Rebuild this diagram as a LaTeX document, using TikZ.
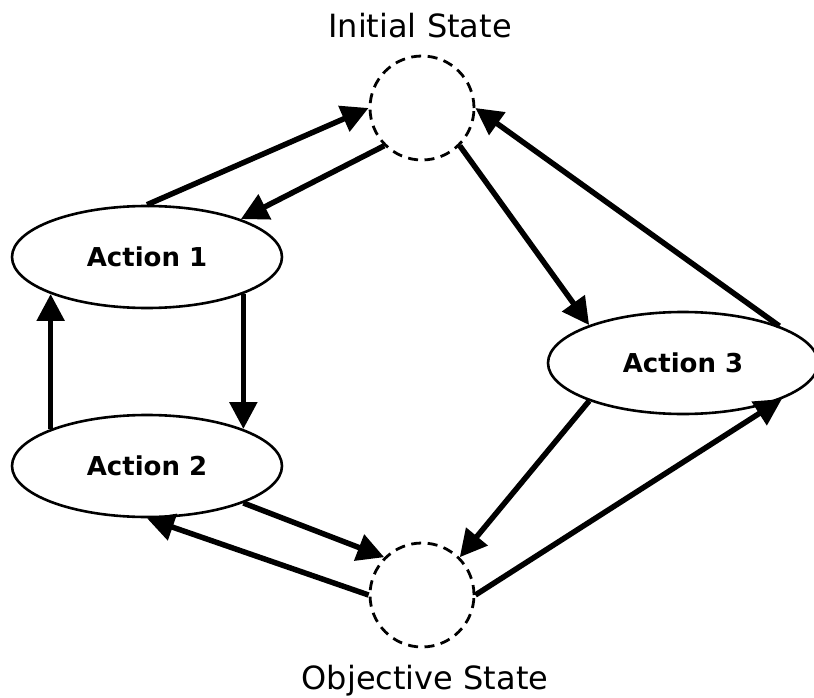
\documentclass[tikz,border=0pt]{standalone}
\usepackage{fontspec}
\setmainfont{DejaVu Sans}
\usetikzlibrary{arrows.meta,shapes.geometric}

\begin{document}
\begin{tikzpicture}[x=1pt,y=-1pt,
  state/.style={circle,draw=black,dashed,dash pattern=on 10pt off 6.5pt,line width=2.8pt,minimum size=104pt,inner sep=0pt},
  action/.style={ellipse,draw=black,line width=2.6pt,minimum width=270pt,minimum height=102pt,inner sep=0pt,font=\fontsize{26}{30}\selectfont\bfseries},
  statelbl/.style={anchor=base,font=\fontsize{32}{38}\selectfont},
  flow/.style={line width=5.5pt,-{Triangle[length=27pt,width=27pt]}}]
  \useasboundingbox (0,0) rectangle (814,698);
  % start and goal
  \node[state] (init) at (422,108) {};
  \node[state] (goal) at (422,595) {};
  \node[statelbl] (initlbl) at (420,38) {Initial State};
  \node[statelbl] (goallbl) at (425,689) {Objective State};
  % actions
  \node[action] (a1) at (147,257) {Action 1};
  \node[action] (a2) at (147,466) {Action 2};
  \node[action] (a3) at (683,363) {Action 3};
  \foreach \s/\t in {a1.north/init.west, init.-135/a1.22, init.-45/a3.158, a3.21/init.east,
                     a1.-21/a2.21, a2.159/a1.201, a2.-21/goal.135, goal.west/a2.south,
                     a3.202/goal.45, goal.east/a3.-20}{
    \draw[flow] (\s) -- (\t);
  }
\end{tikzpicture}
\end{document}
